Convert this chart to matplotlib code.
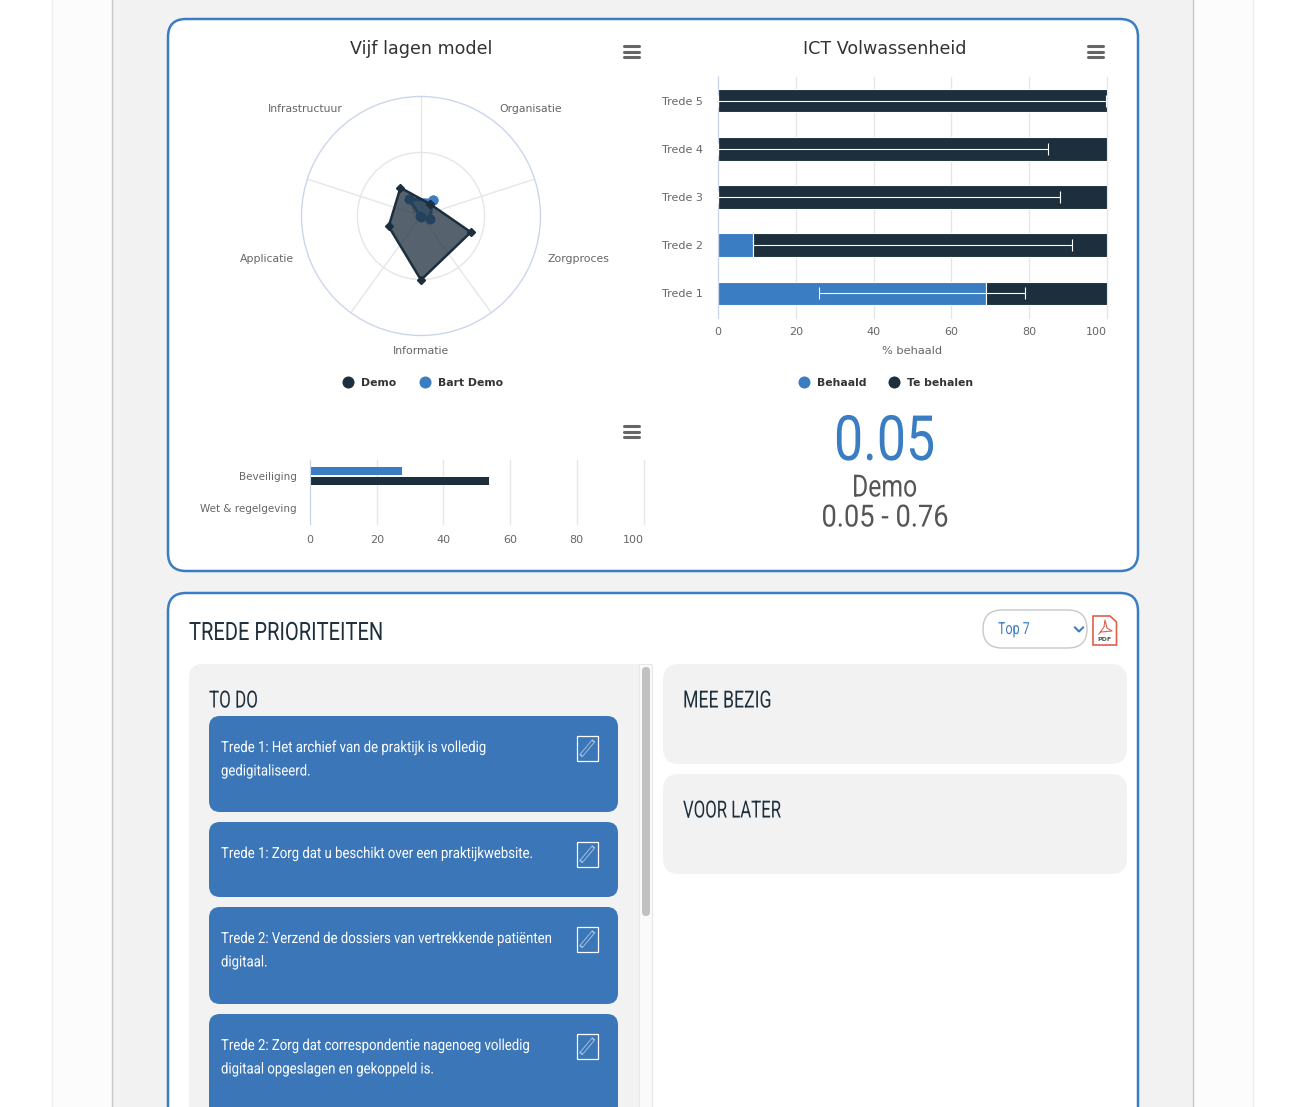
#!/usr/bin/env python
"""Dashboard screenshot: radar, stacked bars, small bars and the priorities board."""
import matplotlib

matplotlib.use("Agg")
import matplotlib.pyplot as plt
import numpy as np
from matplotlib.patches import FancyBboxPatch, Polygon, Rectangle
from matplotlib.patheffects import AbstractPathEffect
from matplotlib.transforms import Affine2D

W, H = 1310, 1107
BLUE = "#3a7dc2"
CARD = "#3a76b8"
DARK = "#1d2f3d"
GRID = "#e6e6e6"
AXIS = "#ccd6eb"
TXT = "#666666"
BODY = ["DejaVu Sans"]
NARROW = ["Roboto", "DejaVu Sans"]

# radar
radar_labels = ["Organisatie", "Zorgproces", "Informatie", "Applicatie", "Infrastructuur"]
radar_demo = [11.8, 41.2, 50.3, 26.7, 27.5]
radar_bart = [15.4, 7.5, 0.8, 0.5, 16.2]
radar_angles = [36, 108, 180, 252, 324]
radar_spokes = [0, 72, 144, 216, 288]
radar_rings = [50, 94]

# ICT Volwassenheid
trede_labels = ["Trede 1", "Trede 2", "Trede 3", "Trede 4", "Trede 5"]
behaald = [69, 9, 0, 0, 0]
te_behalen = [31, 91, 100, 100, 100]
range_low = [26, 9, 0, 0, 0]
range_high = [79, 91, 88, 84.8, 99.8]

# small bars
small_labels = ["Wet & regelgeving", "Beveiliging"]
small_blue = [0, 27.7]
small_dark = [0, 53.7]

# board
todo_cards = [
    (716, 96, "Trede 1: Het archief van de praktijk is volledig\ngedigitaliseerd."),
    (822, 75, "Trede 1: Zorg dat u beschikt over een praktijkwebsite."),
    (907, 97, "Trede 2: Verzend de dossiers van vertrekkende patiënten\ndigitaal."),
    (1014, 110, "Trede 2: Zorg dat correspondentie nagenoeg volledig\ndigitaal opgeslagen en gekoppeld is."),
]


class Condense(AbstractPathEffect):
    """Squeeze glyphs horizontally, the page uses a narrow font we don't have."""

    def __init__(self, sx):
        super().__init__()
        self.sx = sx

    def draw_path(self, renderer, gc, tpath, affine, rgbFace=None):
        renderer.draw_path(gc, tpath, Affine2D().scale(self.sx, 1) + affine, rgbFace)


def narrow_text(ax, x, y, s, sx, **kw):
    t = ax.text(x, y, s, va="center", ha="left", family=NARROW, **kw)
    t.set_path_effects([Condense(sx)])
    return t


def px_axes(fig, x0, y0, x1, y1, **kw):
    return fig.add_axes([x0 / W, 1 - y1 / H, (x1 - x0) / W, (y1 - y0) / H], **kw)


def round_box(ax, x, y, w, h, r, **kw):
    ax.add_patch(FancyBboxPatch((x + r, y + r), w - 2 * r, h - 2 * r, boxstyle=f"round,pad={r},rounding_size={r}", **kw))


def burger(ax, x, y):
    for dy in (-5.3, 0, 5.3):
        ax.plot([x - 7.5, x + 7.5], [y + dy, y + dy], color=TXT, lw=2.2, solid_capstyle="round", zorder=5)


def pencil(ax, x, y):
    ax.add_patch(Rectangle((x, y), 20.5, 24.5, fc="none", ec="white", lw=0.9, zorder=5))
    ax.plot([x + 5, x + 15.5], [y + 18.5, y + 6], color="#a3bfdc", lw=3, zorder=5)
    ax.plot([x + 5.5, x + 15], [y + 18, y + 6.5], color=CARD, lw=1.6, zorder=6)


def legend_dot(ax, x, y, color, label, text_x):
    ax.scatter([x], [y], s=75, color=color, zorder=5, linewidths=0)
    ax.text(text_x, y + 0.5, label, fontsize=7.8, fontweight="bold", color="#333333", va="center", family=BODY)


def style_bar_axes(ax):
    for side in ("top", "right", "bottom"):
        ax.spines[side].set_visible(False)
    ax.spines["left"].set_color(AXIS)
    ax.set_xlim(0, 100)
    ax.set_xticks(range(0, 101, 20))
    ax.grid(axis="x", color=GRID, lw=1, clip_on=False)
    ax.set_axisbelow(True)
    ax.tick_params(length=0, labelsize=8, labelcolor=TXT)
    for t in ax.get_xticklabels() + ax.get_yticklabels():
        t.set_family(BODY)
    ax.get_xticklabels()[-1].set_ha("right")


fig = plt.figure(figsize=(W / 100, H / 100), dpi=100, facecolor="white")

# page and card backgrounds, drawn in pixel coordinates
bg = px_axes(fig, 0, 0, W, H, zorder=0)
bg.set_xlim(0, W)
bg.set_ylim(H, 0)
bg.axis("off")
bg.add_patch(Rectangle((52, -2), 1201, H + 4, fc="#fcfcfc", ec="#eeeeee", lw=1))
bg.add_patch(Rectangle((112, -2), 1081, H + 4, fc="#f2f2f2", ec="#c8c8c8", lw=1))
round_box(bg, 168, 19, 970, 552, 18, fc="white", ec=BLUE, lw=1.8)
round_box(bg, 168, 593, 970, 560, 18, fc="white", ec=BLUE, lw=1.8)

bg.text(421, 48.5, "Vijf lagen model", fontsize=12.65, color="#333333", ha="center", va="center", family=BODY)
bg.text(885, 48.5, "ICT Volwassenheid", fontsize=12.65, color="#333333", ha="center", va="center", family=BODY)
burger(bg, 631.5, 51.5)
burger(bg, 1095.5, 51.5)
burger(bg, 631.5, 431.5)
legend_dot(bg, 348, 382, DARK, "Demo", 361)
legend_dot(bg, 425, 382, BLUE, "Bart Demo", 438)
legend_dot(bg, 804, 382, BLUE, "Behaald", 817)
legend_dot(bg, 894, 382, DARK, "Te behalen", 907)

narrow_text(bg, 834, 443, "0.05", 0.83, fontsize=45, color=BLUE)
narrow_text(bg, 852, 488, "Demo", 0.81, fontsize=22, color="#555555")
narrow_text(bg, 821.5, 518, "0.05 - 0.76", 0.89, fontsize=22, color="#555555")

# board
narrow_text(bg, 189, 633, "TREDE PRIORITEITEN", 0.795, fontsize=18.2, color=DARK)
round_box(bg, 983, 610, 104, 38, 19, fc="white", ec="#c8c8c8", lw=1)
narrow_text(bg, 998, 629.5, "Top 7", 0.75, fontsize=12, color=BLUE)
bg.plot([1075, 1079, 1083], [627.5, 631.5, 627.5], color=BLUE, lw=1.5)
bg.add_patch(Polygon([(1093, 616), (1110, 616), (1116.5, 622), (1116.5, 645), (1093, 645)], fc="white", ec="#e0604e", lw=1.2))
bg.text(1104.5, 639.5, "PDF", fontsize=4.5, color="#555555", ha="center", va="center", fontweight="bold", family=BODY)
bg.plot([1099, 1104, 1105, 1107, 1112, 1101], [634, 627, 620, 628, 631, 632], color="#e0604e", lw=0.8)

round_box(bg, 189, 664, 460, 460, 14, fc="#f2f2f2", ec="none")
bg.add_patch(Rectangle((639, 664), 13, 450, fc="#fafafa", ec="#e8e8e8", lw=0.8))
round_box(bg, 642, 667, 8, 249, 4, fc="#c1c1c1", ec="none")
narrow_text(bg, 209, 701, "TO DO", 0.72, fontsize=17, color=DARK)
for top, height, label in todo_cards:
    round_box(bg, 209, top, 409, height, 11, fc=CARD, ec="none")
    for k, line in enumerate(label.split("\n")):
        narrow_text(bg, 221, top + 32 + 23.5 * k, line, 0.862, fontsize=11, color="white")
    pencil(bg, 577, top + 20)

for top, title, sx in ((664, "MEE BEZIG", 0.75), (774, "VOOR LATER", 0.71)):
    round_box(bg, 663, top, 464, 100, 16, fc="#f2f2f2", ec="none")
    narrow_text(bg, 683, top + 37, title, sx, fontsize=17, color=DARK)

# radar chart
rad = px_axes(fig, 421 - 119.5, 216 - 119.5, 421 + 119.5, 216 + 119.5, projection="polar", zorder=2)
rad.set_theta_zero_location("N")
rad.set_theta_direction(-1)
rad.set_ylim(0, radar_rings[-1])
rad.set_xticks(np.deg2rad(radar_spokes))
rad.set_xticklabels([])
rad.set_yticks(radar_rings[:-1])
rad.set_yticklabels([])
rad.grid(color=GRID, lw=1)
rad.spines["polar"].set_color(AXIS)
rad.spines["polar"].set_linewidth(1)
rad.patch.set_alpha(0)
theta = np.deg2rad(radar_angles + radar_angles[:1])
bart = np.array(radar_bart + radar_bart[:1])
demo = np.array(radar_demo + radar_demo[:1])
rad.fill(theta, bart, color=BLUE, alpha=0.55, lw=0, zorder=3)
rad.plot(theta, bart, color=BLUE, lw=2.2, marker="o", ms=6.2, zorder=3)
rad.fill(theta, demo, color=DARK, alpha=0.75, lw=0, zorder=4)
rad.plot(theta, demo, color=DARK, lw=1.8, marker="D", ms=4.4, zorder=5, clip_on=False)
bg.text(414.3, 210.7, "0", fontsize=6.5, color="#999999", ha="center", va="center", family=BODY)
label_pos = [(530.5, 108.5), (578.5, 258.5), (421, 351.5), (267, 258.5), (305, 108.5)]
for (lx, ly), lab in zip(label_pos, radar_labels):
    bg.text(lx, ly, lab, fontsize=7.8, color=TXT, ha="center", va="center", family=BODY)

# ICT Volwassenheid bars
ict = px_axes(fig, 718, 76.5, 1107, 317.5, zorder=2)
ypos = np.arange(len(trede_labels))
ict.set_ylim(-0.5, 4.5)
ict.barh(ypos, behaald, height=0.49, color=BLUE, edgecolor="white", lw=0.8, zorder=2)
ict.barh(ypos, te_behalen, left=behaald, height=0.49, color=DARK, edgecolor="white", lw=0.8, zorder=2)
ict.hlines(ypos, range_low, range_high, color="white", lw=0.8, zorder=3)
ict.vlines(range_low, ypos - 0.125, ypos + 0.125, color="white", lw=0.8, zorder=3)
ict.vlines(range_high, ypos - 0.125, ypos + 0.125, color="white", lw=0.8, zorder=3)
ict.set_yticks(ypos, trede_labels)
ict.set_xlabel("% behaald", fontsize=8.2, color=TXT, labelpad=7, family=BODY)
style_bar_axes(ict)
ict.tick_params(axis="y", pad=10.8)
ict.tick_params(axis="x", pad=6.5)
ict.set_xlim(0, 100)

# small bar chart
small = px_axes(fig, 310, 460, 643.5, 524, zorder=2)
ysmall = np.arange(len(small_labels))
small.set_ylim(-0.5, 1.5)
small.barh(ysmall + 0.155, small_blue, height=0.23, color=BLUE, zorder=2)
small.barh(ysmall - 0.155, small_dark, height=0.23, color=DARK, zorder=2)
small.set_yticks(ysmall, small_labels)
style_bar_axes(small)
small.tick_params(axis="y", pad=9.7, labelsize=7.5)
small.tick_params(axis="x", pad=8)

fig.savefig("out.png", dpi=100, facecolor="white")
plt.close(fig)
